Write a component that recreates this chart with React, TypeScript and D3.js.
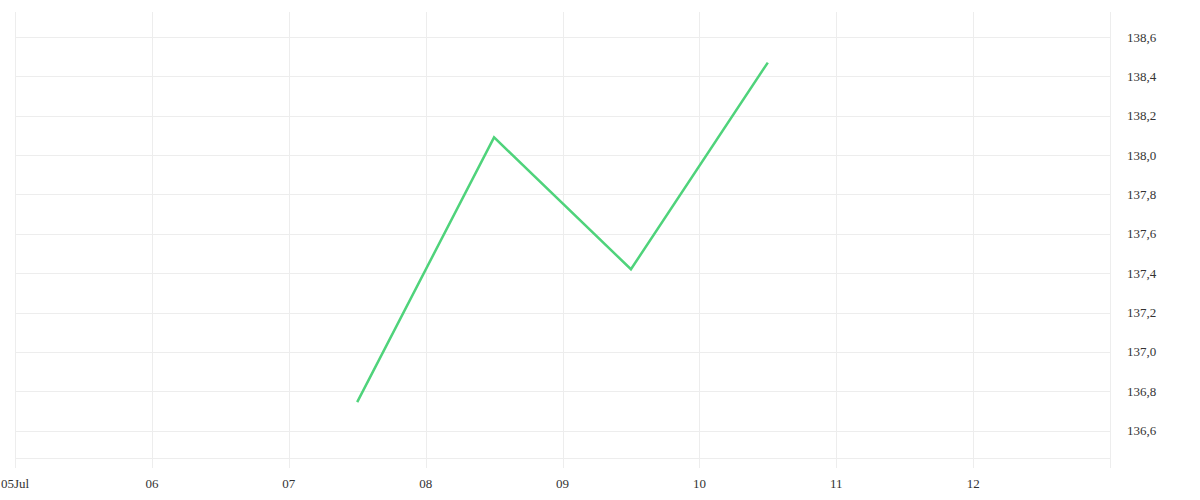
import React from "react";
import * as d3 from "d3";

const dates = ["2024-07-07T12:00", "2024-07-08T12:00", "2024-07-09T12:00", "2024-07-10T12:00"];
const values = [136.745, 138.09, 137.42, 138.47];
const yTicks = [136.6, 136.8, 137.0, 137.2, 137.4, 137.6, 137.8, 138.0, 138.2, 138.4, 138.6];
const xTickDays = ["2024-07-05", "2024-07-06", "2024-07-07", "2024-07-08", "2024-07-09", "2024-07-10", "2024-07-11", "2024-07-12"];
const xTickLabels = ["05Jul", "06", "07", "08", "09", "10", "11", "12"];

const W = 1200, H = 500;
const left = 15, right = 1110, top = 12, bottom = 458;

export default function App() {
  const parse = (s: string) => new Date(s);
  const x = d3.scaleTime().domain([parse("2024-07-05T00:00"), parse("2024-07-13T00:00")]).range([left, right]);
  const y = d3.scaleLinear().domain([136.461, 138.727]).range([bottom, top]);
  const pts = dates.map((d, i) => [x(parse(d)), y(values[i])] as [number, number]);
  const line = d3.line()(pts) || "";
  const font = "'Liberation Serif', serif";
  return (
    <svg width={W} height={H} style={{ position: "absolute", left: 0, top: 0, background: "#fff" }}>
      {yTicks.map((t) => (
        <line key={"h" + t} x1={left} x2={right} y1={Math.round(y(t)) + 0.5} y2={Math.round(y(t)) + 0.5} stroke="#ededed" strokeWidth={1} />
      ))}
      <line x1={left} x2={right} y1={bottom + 0.5} y2={bottom + 0.5} stroke="#ededed" strokeWidth={1} />
      {xTickDays.map((d) => (
        <line key={"v" + d} x1={Math.round(x(parse(d + "T00:00"))) + 0.5} x2={Math.round(x(parse(d + "T00:00"))) + 0.5} y1={top} y2={468} stroke="#ededed" strokeWidth={1} />
      ))}
      <line x1={right + 0.5} x2={right + 0.5} y1={top} y2={468} stroke="#ededed" strokeWidth={1} />
      <path d={line} fill="none" stroke="#4fd37b" strokeWidth={2.5} />
      {yTicks.map((t) => (
        <text key={"yl" + t} x={1127} y={y(t)} dy="0.35em" fontFamily={font} fontSize={13} fill="#333">
          {d3.format(".1f")(t).replace(".", ",")}
        </text>
      ))}
      {xTickDays.map((d, i) => (
        <text key={"xl" + d} x={x(parse(d + "T00:00"))} y={483} dy="0.35em" textAnchor="middle" fontFamily={font} fontSize={13} fill="#333">
          {xTickLabels[i]}
        </text>
      ))}
    </svg>
  );
}
